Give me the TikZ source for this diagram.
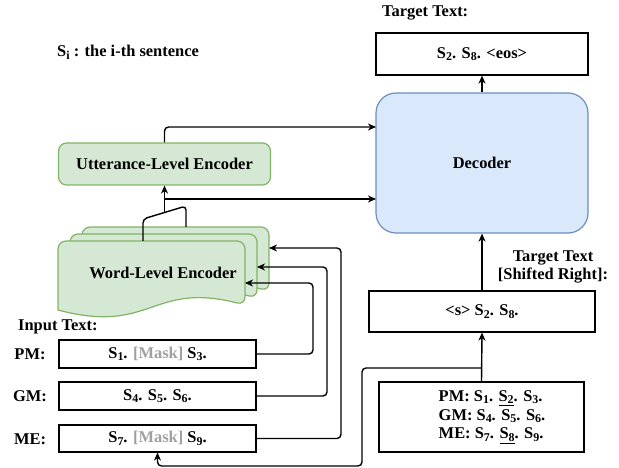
\documentclass[tikz,border=0pt]{standalone}
\usepackage{fontspec}
\setmainfont{Liberation Serif}
\usetikzlibrary{arrows.meta}
\definecolor{gfill}{HTML}{D5E8D4}
\definecolor{gdraw}{HTML}{82B366}
\definecolor{bfill}{HTML}{DAE8FC}
\definecolor{bdraw}{HTML}{6C8EBF}
\definecolor{maskgray}{HTML}{A0A0A0}
\newcommand\subs[1]{\raisebox{-0.35ex}{\fontsize{12}{12}\selectfont #1}}
\newcommand\ulsub[1]{\underline{#1}}
\newcommand\mask{\textcolor{maskgray}{[Mask]}}
\newcommand\wlayer[2]{%
  \filldraw[fill=gfill, draw=gdraw, line width=1.2bp]
    (#1,#2+69) [rounded corners=8bp] -- (#1,#2) -- (#1+187,#2) -- (#1+187,#2+64) [sharp corners]
    .. controls (#1+93.5,#2+40) and (#1+93.5,#2+94) .. (#1,#2+69) -- cycle;}
\begin{document}
\begin{tikzpicture}[x=1bp,y=-1bp,
  font=\fontsize{16.5}{19}\selectfont\bfseries,
  txtbox/.style={draw=black, line width=1.2bp, rectangle, inner sep=0pt, align=center},
  gbox/.style={draw=gdraw, fill=gfill, line width=1.2bp, rectangle, rounded corners=8bp, inner sep=0pt},
  bbox/.style={draw=bdraw, fill=bfill, line width=1.2bp, rectangle, rounded corners=20bp, inner sep=0pt},
  plain/.style={inner sep=0pt, align=center},
  conn/.style={line width=1.4bp, rounded corners=4bp, -{Stealth[length=8bp,width=7bp,inset=2.5bp]}},
  wire/.style={line width=1.4bp, rounded corners=4bp}]
\useasboundingbox (0,0) rectangle (619,468);

% legend
\node[plain, anchor=west] (leg) at (57,52) {S\subs{i} : the i-th sentence};

% right column
\node[plain, anchor=west] (tgtlab) at (382,13) {Target Text:};
\node[txtbox, minimum width=212bp, minimum height=42bp] (tgt) at (482,54) {S\subs{2}. S\subs{8}. <eos>};
\node[bbox, minimum width=212bp, minimum height=140bp] (dec) at (482,163) {Decoder};
\node[plain] (shflab) at (553,267) {Target Text\\[-1bp] [Shifted Right]:};
\node[txtbox, minimum width=226bp, minimum height=41bp] (shf) at (482,311.5) {<s> S\subs{2}. S\subs{8}.};
\node[txtbox, minimum width=205bp, minimum height=70bp] (bot) at (481.5,417) {};
\node[plain, align=left] (bott) at (492,417) {PM: S\subs{1}. \ulsub{S\subs{2}}. S\subs{3}.\\GM: S\subs{4}. S\subs{5}. S\subs{6}.\\ME: S\subs{7}. \ulsub{S\subs{8}}. S\subs{9}.};

% left column
\node[gbox, minimum width=212bp, minimum height=42bp] (utt) at (164.5,164) {Utterance-Level Encoder};
\wlayer{82}{227}
\wlayer{70}{234}
\wlayer{58}{241}
\node[plain] (wle) at (163,273) {Word-Level Encoder};
\coordinate (wb) at (269,248);
\coordinate (wm) at (257,267);
\coordinate (wf) at (245,283);

\node[plain, anchor=west] (inlab) at (18,327) {Input Text:};
\node[plain] (pml) at (30,354) {PM:};
\node[plain] (gml) at (30,396) {GM:};
\node[plain] (mel) at (30,439) {ME:};
\node[txtbox, minimum width=197bp, minimum height=28bp] (pm) at (157.5,354) {S\subs{1}. \mask{} S\subs{3}.};
\node[txtbox, minimum width=197bp, minimum height=28bp] (gm) at (157.5,396) {S\subs{4}. S\subs{5}. S\subs{6}.};
\node[txtbox, minimum width=197bp, minimum height=27bp] (me) at (157.5,438.5) {S\subs{7}. \mask{} S\subs{9}.};

% connectors
\coordinate (d1) at (376,127);
\coordinate (d2) at (376,199);
\coordinate (sp) at (164.5,212);
\coordinate (fa) at (143,241);
\draw[wire] (fa) -- (143,219) -- (186,206) -- (186,227);
\draw[conn] (sp) -- (utt.south);
\draw[conn] (utt.south |- d2) -- (d2);
\draw[conn] (utt.north) |- (d1);

\draw[conn] (dec.north) -- (tgt.south);
\draw[conn] (shf.north) -- (dec.south);
\draw[conn] (bot.north) -- (shf.south);
\draw[conn] (bot.north |- 0,368) -- (362,368) -- (362,466) -| (me.south);

\draw[conn] (pm.east) -| (313,283) -- (wf);
\draw[conn] (gm.east) -| (327,267) -- (wm);
\draw[conn] (me.east) -| (341,248) -- (wb);
\end{tikzpicture}
\end{document}
